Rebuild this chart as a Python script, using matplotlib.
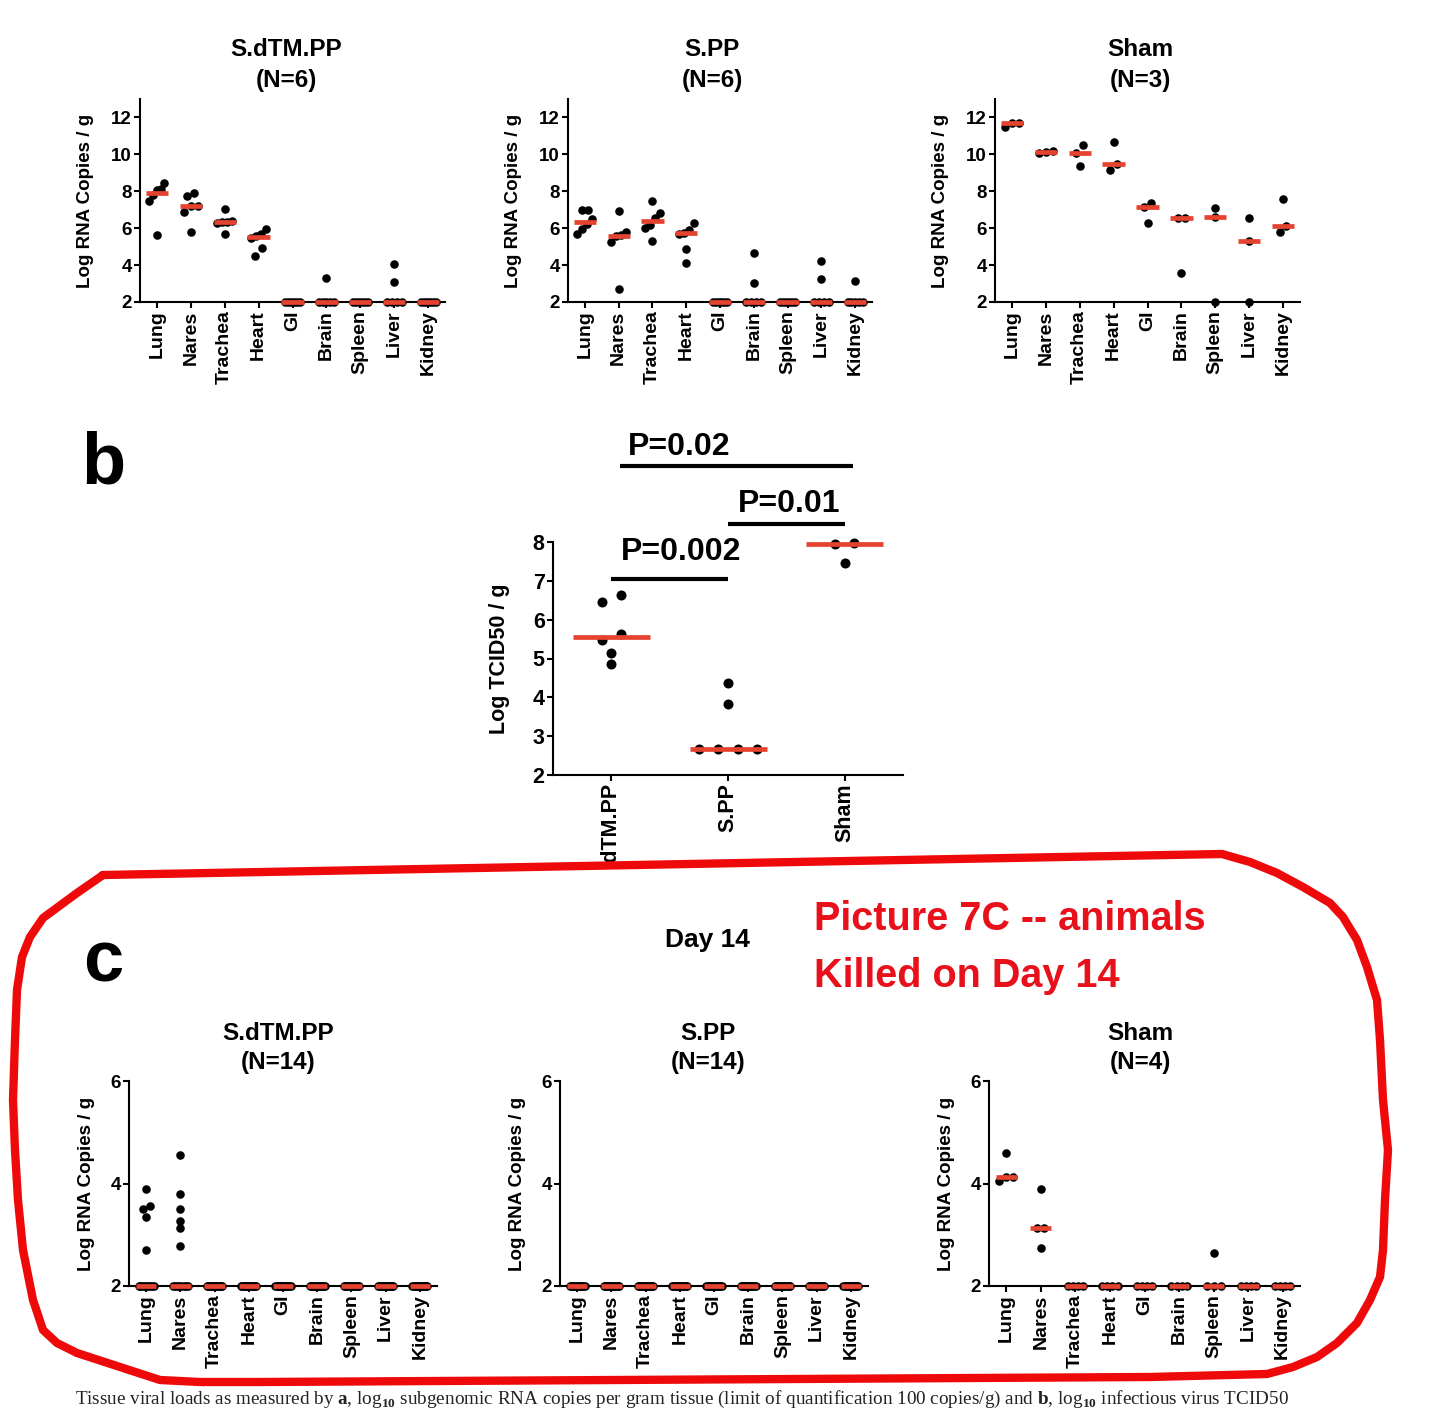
import numpy as np
import matplotlib
matplotlib.use("Agg")
import matplotlib.pyplot as plt
from matplotlib.lines import Line2D
from matplotlib.transforms import Bbox, TransformedBbox

plt.rcParams['font.family'] = ['Liberation Sans', 'DejaVu Sans']
plt.rcParams['font.weight'] = 'bold'
plt.rcParams['axes.labelweight'] = 'bold'
plt.rcParams['mathtext.fontset'] = 'custom'
plt.rcParams['mathtext.rm'] = 'Liberation Serif'
plt.rcParams['mathtext.bf'] = 'Liberation Serif:bold'

W, H = 1456, 1417
RED = '#e5432f'
NOTE_RED = '#e8101a'

tissues = ['Lung', 'Nares', 'Trachea', 'Heart', 'GI', 'Brain', 'Spleen', 'Liver', 'Kidney']

# panel a: log RNA copies / g, one list per tissue
a_titles = ['S.dTM.PP\n(N=6)', 'S.PP\n(N=6)', 'Sham\n(N=3)']
a_sdtm = [[8.05, 8.10, 7.50, 8.43, 7.80, 5.63],
          [7.88, 7.74, 7.22, 7.20, 6.90, 5.82],
          [7.02, 6.38, 6.32, 6.35, 6.30, 5.68],
          [5.94, 5.68, 5.55, 5.45, 4.90, 4.49],
          [2, 2, 2, 2, 2, 2],
          [3.30, 2, 2, 2, 2, 2],
          [2, 2, 2, 2, 2, 2],
          [4.05, 3.10, 2, 2, 2, 2],
          [2, 2, 2, 2, 2, 2]]
a_spp = [[7.00, 7.00, 6.50, 6.20, 5.67, 5.95],
         [6.95, 5.80, 5.65, 5.25, 5.55, 2.70],
         [7.47, 6.80, 6.57, 6.17, 6.03, 5.32],
         [6.26, 5.90, 5.75, 5.70, 4.87, 4.13],
         [2, 2, 2, 2, 2, 2],
         [4.65, 3.05, 2, 2, 2, 2],
         [2, 2, 2, 2, 2, 2],
         [4.20, 3.25, 2, 2, 2, 2],
         [3.15, 2, 2, 2, 2, 2]]
a_sham = [[11.49, 11.70, 11.72],
          [10.05, 10.15, 10.17],
          [10.50, 9.36, 10.09],
          [10.68, 9.15, 9.47],
          [7.34, 6.30, 7.13],
          [6.53, 6.55, 3.55],
          [7.07, 6.62, 2.00],
          [6.57, 5.32, 2.00],
          [7.60, 5.81, 6.13]]

# panel b: log TCID50 / g
b_groups = ['S.dTM.PP', 'S.PP', 'Sham']
b_sdtm = [6.46, 6.63, 5.47, 5.64, 5.13, 4.85]
b_spp = [4.38, 3.84, 2.68, 2.68, 2.68, 2.68]
b_sham = [7.97, 7.95, 7.47]
b_pvals = ['P=0.02', 'P=0.01', 'P=0.002']
b_bar_x = [(0.07, 2.07), (1.0, 2.0), (0.0, 1.0)]
b_bar_y = [9.96, 8.46, 7.05]
b_text_xy = [(0.58, 10.45), (1.52, 8.98), (0.60, 7.74)]

# panel c: day 14
c_titles = ['S.dTM.PP\n(N=14)', 'S.PP\n(N=14)', 'Sham\n(N=4)']
c_sdtm = [[3.90, 3.56, 3.50, 3.35, 2.70] + [2] * 9,
          [4.56, 3.79, 3.50, 3.27, 3.14, 2.79] + [2] * 8,
          [2] * 14, [2] * 14, [2] * 14, [2] * 14, [2] * 14, [2] * 14, [2] * 14]
c_spp = [[2] * 14 for _ in tissues]
c_sham = [[4.59, 4.12, 4.12, 4.04],
          [3.89, 3.13, 3.13, 2.75],
          [2, 2, 2, 2], [2, 2, 2, 2], [2, 2, 2, 2], [2, 2, 2, 2],
          [2.64, 2, 2, 2],
          [2, 2, 2, 2], [2, 2, 2, 2]]

# hand drawn outline (figure pixels)
outline = [(103, 875), (1222, 854), (1250, 862), (1277, 873), (1303, 887), (1330, 903),
           (1343, 917), (1357, 940), (1367, 967), (1377, 1000), (1380, 1040), (1383, 1100),
           (1388, 1150), (1385, 1200), (1383, 1250), (1380, 1277), (1370, 1300), (1357, 1323),
           (1337, 1343), (1317, 1357), (1293, 1367), (1267, 1374), (1150, 1377), (260, 1382),
           (200, 1382), (160, 1380), (120, 1367), (77, 1353), (57, 1343), (43, 1330),
           (33, 1300), (23, 1250), (18, 1200), (15, 1150), (13, 1100), (15, 1040),
           (17, 990), (22, 957), (30, 937), (43, 918), (77, 893), (103, 875)]


def swarm(vals, ystep, xstep, maxhalf):
    vals = np.asarray(vals, dtype=float)
    order = np.argsort(vals, kind='stable')
    xs = np.zeros(len(vals))
    clusters, cur = [], [order[0]]
    for k in order[1:]:
        if vals[k] - vals[cur[-1]] < ystep:
            cur.append(k)
        else:
            clusters.append(cur)
            cur = [k]
    clusters.append(cur)
    for cl in clusters:
        n = len(cl)
        if n > 1:
            step = min(xstep, 2 * maxhalf / (n - 1))
            xs[cl] = (np.arange(n) - (n - 1) / 2) * step
    return xs


def strip(ax, data, ystep, xstep, maxhalf, half, s):
    for i, vals in enumerate(data):
        off = swarm(vals, ystep, xstep, maxhalf)
        ax.scatter(i + off, vals, s=s, color='k', linewidths=0, zorder=3, clip_on=False)
        med = np.median(vals)
        ax.plot([i - half, i + half], [med, med], color=RED, lw=3.4, zorder=4,
                solid_capstyle='butt', clip_on=False)


def add_ax(l, r, t, b):
    return fig.add_axes([l / W, 1 - b / H, (r - l) / W, (b - t) / H])


def style(ax, labels, ylim, yticks, ylabel, ytick_fs, xtick_fs, ylab_fs, ylab_dx):
    for sp in ['top', 'right']:
        ax.spines[sp].set_visible(False)
    for sp in ['left', 'bottom']:
        ax.spines[sp].set_linewidth(1.5)
    ax.set_xlim(-0.5, len(labels) - 0.5)
    ax.set_ylim(*ylim)
    ax.set_yticks(yticks)
    ax.set_yticklabels([str(t) for t in yticks], fontsize=ytick_fs, fontweight='bold')
    ax.set_xticks(range(len(labels)))
    ax.set_xticklabels(labels, rotation=90, fontsize=xtick_fs, fontweight='bold')
    ax.tick_params(axis='both', width=1.5, length=4, pad=2, colors='k')
    ax.set_ylabel(ylabel, fontsize=ylab_fs, fontweight='bold')
    bw = ax.get_position().width * W
    ax.yaxis.set_label_coords(ylab_dx / bw, 0.5)
    ax.patch.set_alpha(0)


def ftext(x, y, s, **kw):
    return fig.text(x / W, 1 - y / H, s, **kw)


fig = plt.figure(figsize=(W / 100, H / 100), dpi=100)
fig.patch.set_facecolor('white')

# ---- panel a
a_boxes = [(140, 445), (568, 872), (995, 1300)]
a_title_x = [286, 712, 1140]
for (l, r), data, title, tx in zip(a_boxes, [a_sdtm, a_spp, a_sham], a_titles, a_title_x):
    ax = add_ax(l, r, 99, 302)
    strip(ax, data, ystep=0.43, xstep=0.2, maxhalf=0.22, half=0.33, s=38)
    style(ax, tissues, (2, 13), [2, 4, 6, 8, 10, 12], 'Log RNA Copies / g', 13.5, 14, 13.5, -46)
    name, n = title.split('\n')
    ftext(tx, 50, name, ha='center', va='center', fontsize=17.5)
    ftext(tx, 80, n, ha='center', va='center', fontsize=17.5)

# ---- panel b
ftext(103, 464, 'b', ha='center', va='center', fontsize=52)
axb = add_ax(553, 903, 542, 775)
strip(axb, [b_sdtm, b_spp, b_sham], ystep=0.23, xstep=0.165, maxhalf=0.3, half=0.33, s=52)
style(axb, b_groups, (2, 8), [2, 3, 4, 5, 6, 7, 8], 'Log TCID50 / g', 15.5, 15.5, 15.5, -43)
for (x0, x1), y, (tx, ty), p in zip(b_bar_x, b_bar_y, b_text_xy, b_pvals):
    axb.plot([x0, x1], [y, y], color='k', lw=3, clip_on=False, solid_capstyle='butt')
    axb.text(tx, ty, p, ha='center', va='center', fontsize=23, clip_on=False)
clip = TransformedBbox(Bbox([[0, 1 - 866 / H], [1, 1]]), fig.transFigure)
for lbl in axb.get_xticklabels():
    lbl.set_clip_box(clip)
    lbl.set_clip_on(True)

# ---- panel c
ftext(103, 962, 'c', ha='center', va='center', fontsize=52)
ftext(707, 940, 'Day 14', ha='center', va='center', fontsize=19)
ftext(814, 919, 'Picture 7C -- animals', ha='left', va='center', fontsize=28.5, color=NOTE_RED)
ftext(814, 976, 'Killed on Day 14', ha='left', va='center', fontsize=28.5, color=NOTE_RED)
c_boxes = [(129, 437), (560, 868), (989, 1300)]
c_title_x = [278, 708, 1140]
for (l, r), data, title, tx in zip(c_boxes, [c_sdtm, c_spp, c_sham], c_titles, c_title_x):
    ax = add_ax(l, r, 1081, 1286)
    strip(ax, data, ystep=0.1, xstep=0.2, maxhalf=0.22, half=0.3, s=38)
    style(ax, tissues, (2, 6), [2, 4, 6], 'Log RNA Copies / g', 13.5, 14, 13.5, -34)
    name, n = title.split('\n')
    ftext(tx, 1033, name, ha='center', va='center', fontsize=17.5)
    ftext(tx, 1063, n, ha='center', va='center', fontsize=17.5)

# red outline
ox = [p[0] / W for p in outline]
oy = [1 - p[1] / H for p in outline]
fig.add_artist(Line2D(ox, oy, transform=fig.transFigure, color='#ee0a0a', lw=6,
                      solid_joinstyle='round', solid_capstyle='round', zorder=10))

# caption
cap = ftext(75, 1399, r"Tissue viral loads as measured by $\mathbf{a}$, log$_{10}$ subgenomic RNA copies "
            r"per gram tissue (limit of quantification 100 copies/g) and $\mathbf{b}$, log$_{10}$ "
            r"infectious virus TCID50", ha='left', va='center', fontsize=13.5,
            family='Liberation Serif', weight='normal', color='#222222')
fig.canvas.draw()
cw = cap.get_window_extent().width
cap.set_fontsize(13.5 * 1218 / cw)

fig.savefig('out.png', dpi=100, facecolor='white')
